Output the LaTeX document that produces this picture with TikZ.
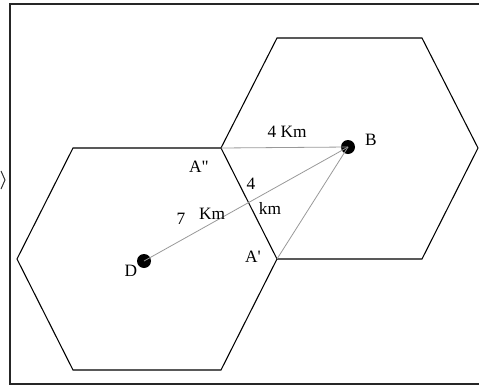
\documentclass[tikz,border=0pt]{standalone}
\usepackage{fontspec}
\setmainfont{Liberation Serif}
\begin{document}
\begin{tikzpicture}[x=0.75pt,y=-0.75pt,
  hexline/.style={line width=0.8pt,black,line join=miter},
  frame/.style={line width=1.5pt,black!85},
  link/.style={line width=0.6pt,black!40},
  dot/.style={circle,fill=black,inner sep=0pt,minimum size=10.5pt},
  lbl/.style={inner sep=0pt,font=\fontsize{13}{15}\selectfont}]
\useasboundingbox (0,0) rectangle (479,386);
% frame
\draw[frame] (479,4) -- (10,4) -- (10,384) -- (479,384);
\draw[line width=0.75pt,black!80] (1,171) -- (5,180) -- (1,189);
% shared vertices
\coordinate (App) at (221,148);
\coordinate (Ap) at (277,259);
% left hexagon
\draw[hexline] (73,148) -- (App) -- (Ap) -- (221,370) -- (73,370) -- (17,259) -- cycle;
% right hexagon
\draw[hexline] (App) -- (277,38) -- (422,38) -- (478,148) -- (422,259) -- (Ap);
% centres
\node[dot] (B) at (348,147) {};
\node[dot] (D) at (144,261) {};
\draw[link] (App) -- (B.center);
\draw[link] (D.center) -- (B.center);
\draw[link] (B.center) -- (Ap);
% labels
\node[lbl] (l1) at (287,132) {4 Km};
\node[lbl] (lB) at (371,140) {B};
\node[lbl] (lApp) at (199,167) {A\textquotedbl};
\node[lbl] (l4) at (251,184) {4};
\node[lbl] (lkm) at (270,208) {km};
\node[lbl] (l7) at (181,219) {7};
\node[lbl] (lKm) at (212,214) {Km};
\node[lbl] (lD) at (131,271) {D};
\node[lbl] (lAp) at (253,257) {A\textquotesingle};
\end{tikzpicture}
\end{document}
